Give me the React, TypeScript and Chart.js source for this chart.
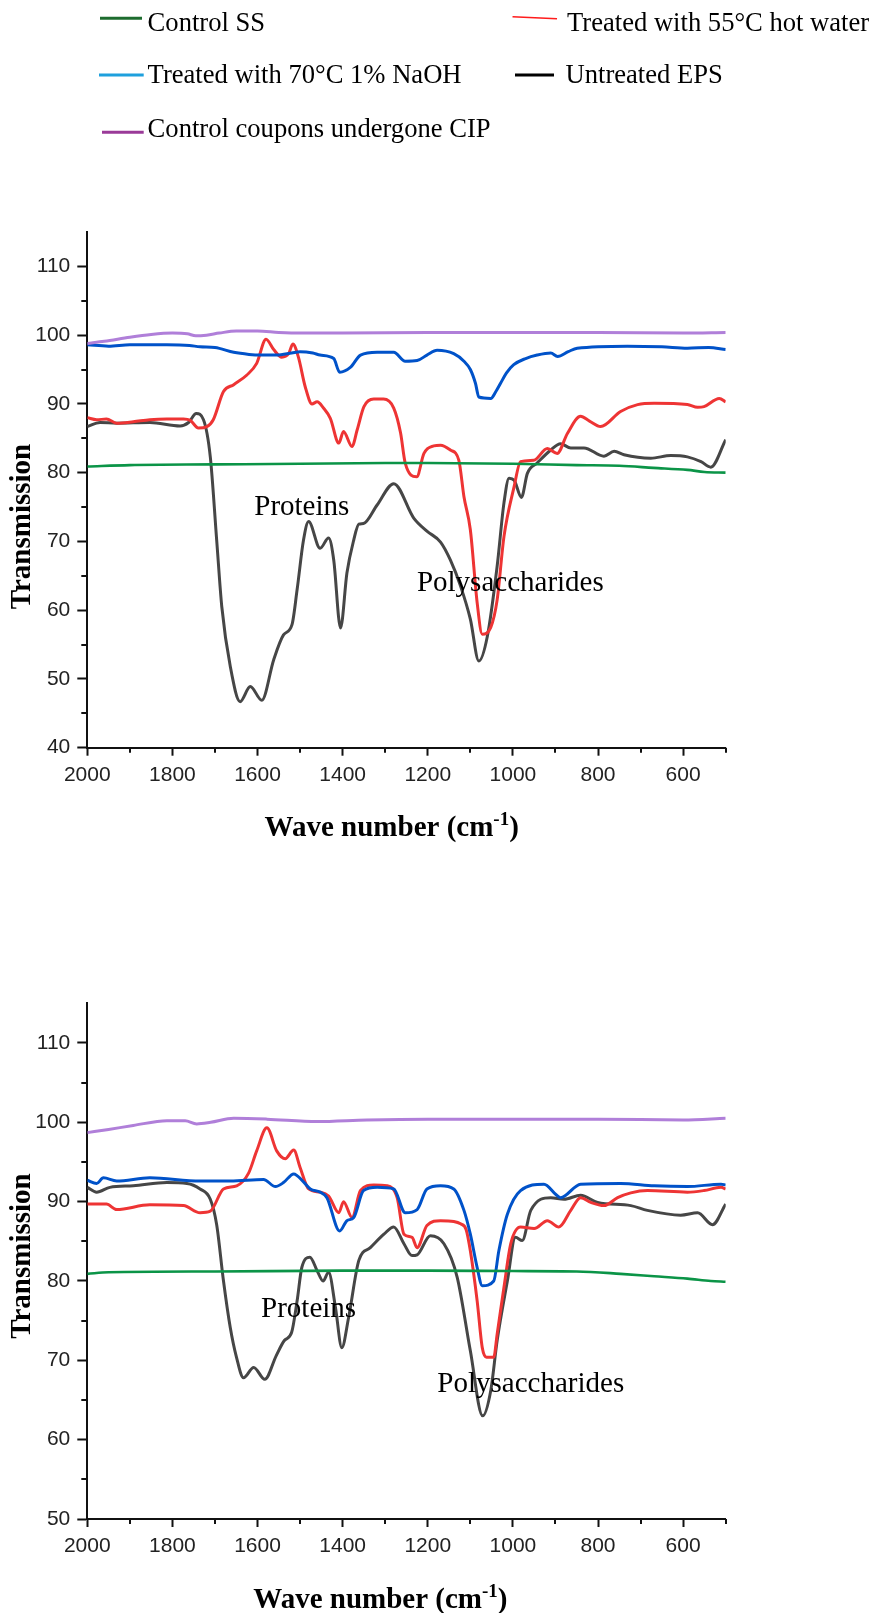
import { useEffect, useRef } from 'react';
import { Chart, registerables } from 'chart.js';

Chart.register(...registerables);

type P = [number, number];

// ---------- axis ticks ----------
const xMajorTicks = [600, 800, 1000, 1200, 1400, 1600, 1800, 2000];
const xMinorTicks = [500, 700, 900, 1100, 1300, 1500, 1700, 1900];
const topYTicks = [40, 50, 60, 70, 80, 90, 100, 110];
const topYMinor = [45, 55, 65, 75, 85, 95, 105];
const botYTicks = [50, 60, 70, 80, 90, 100, 110];
const botYMinor = [55, 65, 75, 85, 95, 105];

// ---------- legend / series names ----------
const seriesNames = [
  'Control SS',
  'Treated with 55°C hot water',
  'Treated with 70°C 1% NaOH',
  'Untreated EPS',
  'Control coupons undergone CIP',
];

// ---------- top panel data (wave number, transmission) ----------
const topGreen: P[] = [[2000, 80.9], [1900, 81.1], [1700, 81.2], [1500, 81.3], [1300, 81.4], [1200, 81.4], [1000, 81.3], [850, 81.1], [750, 81.0], [670, 80.7], [590, 80.4], [550, 80.1], [500, 80.0]];
const topPurple: P[] = [[2000, 98.8], [1960, 99.1], [1900, 99.7], [1850, 100.1], [1800, 100.3], [1765, 100.2], [1745, 99.9], [1720, 100.0], [1690, 100.3], [1650, 100.6], [1600, 100.6], [1550, 100.4], [1500, 100.3], [1400, 100.3], [1200, 100.4], [1000, 100.4], [800, 100.4], [600, 100.3], [500, 100.4]];
const topBlue: P[] = [[2000, 98.6], [1950, 98.4], [1900, 98.6], [1813, 98.6], [1760, 98.5], [1735, 98.3], [1700, 98.2], [1656, 97.5], [1620, 97.2], [1594, 97.1], [1555, 97.1], [1520, 97.4], [1500, 97.6], [1470, 97.4], [1453, 97.1], [1421, 96.6], [1407, 94.6], [1382, 95.3], [1358, 97.1], [1319, 97.5], [1280, 97.5], [1253, 96.2], [1225, 96.3], [1202, 97.1], [1178, 97.8], [1139, 97.3], [1115, 96.2], [1100, 95.0], [1088, 93.0], [1080, 91.0], [1052, 90.8], [1040, 91.8], [1029, 93.0], [1015, 94.5], [998, 95.7], [970, 96.6], [943, 97.1], [911, 97.4], [895, 96.9], [870, 97.6], [849, 98.1], [731, 98.4], [650, 98.3], [590, 98.1], [540, 98.2], [500, 97.9]];
const topRed: P[] = [[2000, 88.0], [1978, 87.7], [1955, 87.8], [1931, 87.2], [1892, 87.4], [1853, 87.7], [1813, 87.8], [1774, 87.8], [1758, 87.6], [1739, 86.5], [1719, 86.7], [1704, 87.7], [1680, 91.8], [1656, 92.8], [1625, 94.2], [1602, 95.9], [1580, 99.4], [1562, 97.9], [1543, 96.8], [1527, 97.3], [1517, 98.7], [1504, 96.8], [1488, 92.5], [1472, 90.0], [1460, 90.3], [1445, 89.4], [1429, 87.9], [1409, 84.3], [1398, 86.0], [1378, 83.8], [1366, 86.2], [1350, 89.6], [1327, 90.7], [1304, 90.7], [1280, 89.4], [1264, 85.8], [1253, 81.4], [1226, 79.4], [1209, 82.8], [1186, 83.9], [1170, 84.0], [1147, 83.3], [1127, 81.8], [1115, 76.5], [1100, 71.7], [1084, 61.1], [1072, 56.5], [1052, 57.5], [1037, 61.5], [1021, 70.7], [997, 78.0], [982, 81.6], [951, 81.8], [919, 83.5], [896, 82.8], [872, 85.7], [841, 88.2], [820, 87.5], [794, 86.7], [747, 88.9], [707, 89.9], [668, 90.1], [590, 89.9], [566, 89.5], [551, 89.6], [515, 90.8], [500, 90.3]];
const topBlack: P[] = [[2000, 86.7], [1970, 87.3], [1931, 87.2], [1853, 87.3], [1782, 86.8], [1762, 87.3], [1744, 88.6], [1727, 87.7], [1711, 82.3], [1696, 70.2], [1684, 60.5], [1664, 51.8], [1641, 46.7], [1617, 48.9], [1590, 46.9], [1562, 52.8], [1539, 56.4], [1519, 57.9], [1507, 63.0], [1492, 70.2], [1480, 72.9], [1453, 69.0], [1433, 70.5], [1421, 67.3], [1405, 57.4], [1390, 65.4], [1374, 70.2], [1362, 72.5], [1351, 72.6], [1319, 75.3], [1280, 78.4], [1233, 73.4], [1202, 71.5], [1170, 69.9], [1147, 67.3], [1123, 63.5], [1100, 58.7], [1080, 52.6], [1060, 56.2], [1037, 66.4], [1021, 75.6], [1009, 79.2], [997, 78.9], [980, 76.4], [966, 79.9], [943, 81.4], [911, 83.3], [888, 84.2], [864, 83.6], [833, 83.6], [786, 82.4], [762, 83.1], [739, 82.6], [676, 82.1], [629, 82.5], [590, 82.3], [558, 81.6], [535, 80.8], [500, 84.8]];

// ---------- bottom panel data ----------
const botGreen: P[] = [[2000, 80.9], [1950, 81.1], [1700, 81.2], [1400, 81.3], [1200, 81.3], [1000, 81.25], [850, 81.2], [747, 80.9], [668, 80.6], [590, 80.3], [535, 80.0], [500, 79.9]];
const botPurple: P[] = [[2000, 98.7], [1950, 99.1], [1892, 99.6], [1813, 100.2], [1770, 100.2], [1743, 99.8], [1710, 100.0], [1656, 100.5], [1578, 100.4], [1460, 100.1], [1343, 100.3], [1200, 100.4], [1000, 100.4], [800, 100.4], [600, 100.3], [500, 100.5]];
const botBlue: P[] = [[2000, 92.7], [1978, 92.3], [1962, 93.0], [1931, 92.6], [1853, 93.0], [1735, 92.6], [1664, 92.6], [1586, 92.8], [1558, 91.9], [1539, 92.4], [1515, 93.5], [1492, 92.5], [1476, 91.6], [1453, 91.2], [1437, 90.5], [1407, 86.3], [1390, 87.6], [1374, 88.0], [1351, 91.4], [1319, 91.8], [1280, 91.6], [1253, 88.6], [1225, 89.0], [1202, 91.6], [1170, 92.0], [1139, 91.6], [1115, 88.9], [1100, 85.9], [1084, 81.7], [1072, 79.4], [1045, 80.0], [1033, 83.8], [1013, 88.4], [982, 91.4], [927, 92.2], [899, 90.9], [888, 90.5], [841, 92.2], [747, 92.3], [668, 92.0], [590, 91.9], [511, 92.2], [500, 92.1]];
const botRed: P[] = [[2000, 89.7], [1955, 89.7], [1931, 89.0], [1853, 89.6], [1774, 89.5], [1735, 88.6], [1711, 88.8], [1680, 91.6], [1649, 92.0], [1621, 93.6], [1602, 96.4], [1578, 99.3], [1555, 96.4], [1535, 95.4], [1515, 96.5], [1500, 94.3], [1480, 91.6], [1453, 91.2], [1433, 90.7], [1409, 88.6], [1398, 90.0], [1378, 88.0], [1358, 91.4], [1327, 92.1], [1296, 92.0], [1272, 90.5], [1256, 85.9], [1237, 85.5], [1225, 84.2], [1202, 87.0], [1170, 87.6], [1139, 87.5], [1123, 87.2], [1110, 86.5], [1100, 83.8], [1084, 77.5], [1072, 71.6], [1062, 70.4], [1045, 70.4], [1037, 73.3], [1021, 79.2], [1005, 84.7], [982, 86.8], [950, 86.6], [919, 87.6], [892, 86.8], [864, 88.9], [841, 90.5], [817, 89.9], [786, 89.5], [754, 90.5], [723, 91.1], [684, 91.4], [590, 91.2], [551, 91.4], [511, 91.8], [500, 91.6]];
const botBlack: P[] = [[2000, 91.8], [1978, 91.2], [1947, 91.8], [1892, 92.0], [1813, 92.4], [1766, 92.3], [1735, 91.6], [1711, 90.3], [1696, 87.1], [1680, 80.0], [1664, 74.1], [1650, 70.5], [1633, 67.8], [1609, 69.1], [1583, 67.6], [1556, 70.6], [1537, 72.5], [1520, 73.5], [1507, 77.5], [1496, 81.7], [1477, 83.0], [1460, 81.3], [1446, 80.0], [1433, 81.1], [1417, 76.7], [1402, 71.6], [1386, 75.4], [1362, 82.6], [1335, 84.2], [1303, 85.9], [1280, 86.8], [1256, 84.7], [1237, 83.2], [1225, 83.3], [1194, 85.7], [1162, 84.7], [1131, 80.5], [1100, 71.2], [1071, 63.0], [1052, 66.2], [1037, 72.5], [1013, 80.0], [994, 85.5], [978, 85.1], [958, 88.9], [911, 90.5], [880, 90.3], [841, 90.8], [801, 89.9], [723, 89.5], [684, 88.9], [606, 88.3], [566, 88.6], [531, 87.1], [500, 89.7]];

// ---------- annotations (wave number, transmission at text baseline) ----------
const topNotes: { text: string; at: P }[] = [
  { text: 'Proteins', at: [1496, 73.9] },
  { text: 'Polysaccharides', at: [1006, 62.85] },
];
const botNotes: { text: string; at: P }[] = [
  { text: 'Proteins', at: [1480, 75.5] },
  { text: 'Polysaccharides', at: [958, 65.95] },
];

const SERIF = '"Liberation Serif", "Times New Roman", serif';
const SANS = '"Liberation Sans", Arial, sans-serif';

const lineColors = {
  green: '#0b9447',
  purple: '#b07fd9',
  blue: '#0052c9',
  red: '#ee3434',
  black: '#464646',
};

function ds(label: string, pts: P[], color: string, width = 3) {
  return {
    label,
    data: pts.map(([x, y]) => ({ x, y })),
    borderColor: color,
    backgroundColor: color,
    borderWidth: width,
    pointRadius: 0,
    fill: false,
    cubicInterpolationMode: 'monotone' as const,
  };
}

type PanelCfg = {
  height: number;
  areaTop: number;
  areaBottom: number;
  yMin: number;
  yTicks: number[];
  yMinor: number[];
  series: { green: P[]; purple: P[]; blue: P[]; red: P[]; black: P[] };
  notes: { text: string; at: P }[];
  yTitleY: number;
  xTitleX: number;
  xTitleBase: number;
  legend: boolean;
};

function drawLegend(ctx: CanvasRenderingContext2D) {
  const items = [
    { name: seriesNames[0], color: '#1d6c2e', w: 3, x1: 100, y1: 18.3, x2: 142, y2: 18.3, tx: 147.6, ty: 30.7 },
    { name: seriesNames[1], color: '#ff1c1c', w: 1.5, x1: 512.5, y1: 16.7, x2: 557, y2: 18.7, tx: 567, ty: 30.7 },
    { name: seriesNames[2], color: '#1ea0dd', w: 3, x1: 99, y1: 75, x2: 143.7, y2: 75, tx: 147.6, ty: 83.3 },
    { name: seriesNames[3], color: '#000000', w: 3, x1: 515, y1: 75, x2: 554, y2: 75, tx: 565.5, ty: 83.3 },
    { name: seriesNames[4], color: '#9a3a98', w: 3, x1: 102, y1: 132.3, x2: 143.7, y2: 132.3, tx: 147.6, ty: 136.7 },
  ];
  ctx.save();
  ctx.font = `26.6px ${SERIF}`;
  ctx.textBaseline = 'alphabetic';
  ctx.textAlign = 'left';
  for (const it of items) {
    ctx.strokeStyle = it.color;
    ctx.lineWidth = it.w;
    ctx.beginPath();
    ctx.moveTo(it.x1, it.y1);
    ctx.lineTo(it.x2, it.y2);
    ctx.stroke();
    ctx.fillStyle = '#000';
    ctx.fillText(it.name, it.tx, it.ty);
  }
  ctx.restore();
}

function makeConfig(p: PanelCfg): any {
  const decor = {
    id: 'decor',
    afterDraw(chart: any) {
      const { ctx, chartArea: a } = chart;
      const x = chart.scales.x;
      const y = chart.scales.y;
      ctx.save();
      ctx.strokeStyle = '#111';
      ctx.lineWidth = 2;
      ctx.beginPath();
      for (const v of xMinorTicks) {
        const px = Math.round(x.getPixelForValue(v));
        ctx.moveTo(px, a.bottom);
        ctx.lineTo(px, a.bottom + 5);
      }
      for (const v of p.yMinor) {
        const py = Math.round(y.getPixelForValue(v));
        ctx.moveTo(a.left - 6, py);
        ctx.lineTo(a.left, py);
      }
      ctx.stroke();

      // annotations
      ctx.fillStyle = '#000';
      ctx.font = `29px ${SERIF}`;
      ctx.textAlign = 'center';
      ctx.textBaseline = 'alphabetic';
      for (const n of p.notes) {
        ctx.fillText(n.text, x.getPixelForValue(n.at[0]), y.getPixelForValue(n.at[1]));
      }

      // y title
      ctx.save();
      ctx.translate(23, p.yTitleY);
      ctx.rotate(-Math.PI / 2);
      ctx.font = `bold 29px ${SERIF}`;
      ctx.textAlign = 'center';
      ctx.textBaseline = 'middle';
      ctx.fillText('Transmission', 0, 0);
      ctx.restore();

      // x title with superscript
      const main = 'Wave number (cm';
      const sup = '-1';
      const close = ')';
      ctx.textAlign = 'left';
      ctx.textBaseline = 'alphabetic';
      ctx.font = `bold 29px ${SERIF}`;
      const w1 = ctx.measureText(main).width;
      const w3 = ctx.measureText(close).width;
      ctx.font = `bold 19px ${SERIF}`;
      const w2 = ctx.measureText(sup).width;
      const start = p.xTitleX - (w1 + w2 + w3) / 2;
      ctx.font = `bold 29px ${SERIF}`;
      ctx.fillText(main, start, p.xTitleBase);
      ctx.fillText(close, start + w1 + w2, p.xTitleBase);
      ctx.font = `bold 19px ${SERIF}`;
      ctx.fillText(sup, start + w1, p.xTitleBase - 11);

      if (p.legend) drawLegend(ctx);
      ctx.restore();
    },
  };

  const s = p.series;
  return {
    type: 'line',
    data: {
      datasets: [
        ds(seriesNames[0], s.green, lineColors.green, 2.6),
        ds(seriesNames[4], s.purple, lineColors.purple, 3),
        ds(seriesNames[2], s.blue, lineColors.blue, 3),
        ds(seriesNames[1], s.red, lineColors.red, 3),
        ds(seriesNames[3], s.black, lineColors.black, 3),
      ],
    },
    options: {
      responsive: false,
      animation: false,
      devicePixelRatio: 1,
      layout: { padding: { left: 0, right: 876 - 725.7, top: p.areaTop, bottom: 0 } },
      plugins: { legend: { display: false }, tooltip: { enabled: false } },
      scales: {
        x: {
          type: 'linear',
          reverse: true,
          min: 500,
          max: 2000,
          afterBuildTicks: (sc: any) => {
            sc.ticks = xMajorTicks.map((v) => ({ value: v }));
          },
          afterFit: (sc: any) => {
            sc.height = p.height - p.areaBottom;
          },
          ticks: {
            callback: (v: any) => String(v),
            font: { family: SANS, size: 21 },
            color: '#222',
            padding: 6.5,
            maxRotation: 0,
            autoSkip: false,
          },
          grid: { display: true, drawOnChartArea: false, drawTicks: true, tickLength: 8, tickWidth: 2, tickColor: '#111' },
          border: { display: true, color: '#111', width: 2 },
        },
        y: {
          type: 'linear',
          min: p.yMin,
          max: 115,
          afterBuildTicks: (sc: any) => {
            sc.ticks = p.yTicks.map((v) => ({ value: v }));
          },
          afterFit: (sc: any) => {
            sc.width = 87.3;
          },
          ticks: {
            callback: (v: any) => String(v),
            font: { family: SANS, size: 21 },
            color: '#222',
            padding: 7,
            autoSkip: false,
          },
          grid: { display: true, drawOnChartArea: false, drawTicks: true, tickLength: 10, tickWidth: 2, tickColor: '#111' },
          border: { display: true, color: '#111', width: 2 },
        },
      },
    },
    plugins: [decor],
  };
}

export default function App() {
  const r1 = useRef<HTMLCanvasElement>(null);
  const r2 = useRef<HTMLCanvasElement>(null);

  useEffect(() => {
    const c1 = new Chart(
      r1.current!,
      makeConfig({
        height: 870,
        areaTop: 232,
        areaBottom: 747.7,
        yMin: 40,
        yTicks: topYTicks,
        yMinor: topYMinor,
        series: { green: topGreen, purple: topPurple, blue: topBlue, red: topRed, black: topBlack },
        notes: topNotes,
        yTitleY: 526.5,
        xTitleX: 391.7,
        xTitleBase: 836,
        legend: true,
      })
    );
    const c2 = new Chart(
      r2.current!,
      makeConfig({
        height: 743,
        areaTop: 133.3,
        areaBottom: 649,
        yMin: 50,
        yTicks: botYTicks,
        yMinor: botYMinor,
        series: { green: botGreen, purple: botPurple, blue: botBlue, red: botRed, black: botBlack },
        notes: botNotes,
        yTitleY: 386,
        xTitleX: 380.4,
        xTitleBase: 738,
        legend: false,
      })
    );
    return () => {
      c1.destroy();
      c2.destroy();
    };
  }, []);

  return (
    <div style={{ position: 'absolute', left: 0, top: 0, width: 876, height: 1613, background: '#fff' }}>
      <canvas ref={r1} width={876} height={870} style={{ position: 'absolute', left: 0, top: 0 }} />
      <canvas ref={r2} width={876} height={743} style={{ position: 'absolute', left: 0, top: 870 }} />
    </div>
  );
}
